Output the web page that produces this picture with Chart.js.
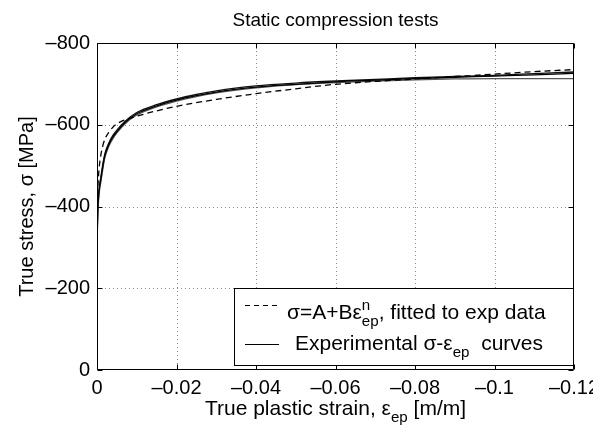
<!DOCTYPE html>
<html><head><meta charset="utf-8">
<script src="https://cdn.jsdelivr.net/npm/chart.js@4/dist/chart.umd.min.js"></script>
<style>html,body{margin:0;padding:0;background:#fff}#wrap{width:593px;height:441px;position:relative}</style>
</head><body><div id="wrap"><canvas id="c"></canvas></div>
<script>
const FONT = '"Liberation Sans", Arial, Helvetica, sans-serif';
const FS_TICK = 20, FS_TITLE = 19, FS_LEG = 21, FS_AX = 21;

const titleText = 'Static compression tests';
const xTickValues = [0, -0.02, -0.04, -0.06, -0.08, -0.1, -0.12];
const yTickValues = [0, -200, -400, -600, -800];

// Experimental curves (strain, stress)
const strainExp = [0, -0.0002, -0.0005, -0.001, -0.0015, -0.002, -0.003, -0.004, -0.005, -0.007, -0.01, -0.015, -0.02, -0.025, -0.03, -0.04, -0.05, -0.06, -0.07, -0.08, -0.09, -0.1, -0.11, -0.12];
const exp1 = [-310, -390, -435, -468, -500, -525, -552, -570, -583, -605, -627, -646, -660, -671, -680, -692, -699, -705, -709, -713, -716, -719, -722, -726];
const exp2 = [-300, -380, -428, -462, -494, -520, -548, -566, -580, -602, -624, -644, -658, -669, -678, -690, -698, -703, -707, -710, -712, -713, -713, -713];
const exp3 = [-320, -398, -442, -474, -506, -530, -556, -574, -587, -608, -630, -649, -663, -674, -683, -695, -702, -707, -711, -715, -718, -721, -725, -729];

// Fitted curve sigma = A + B*eps^n
const strainFit = [0, -0.0002, -0.0005, -0.001, -0.0015, -0.002, -0.003, -0.004, -0.005, -0.0065, -0.008, -0.01, -0.015, -0.02, -0.03, -0.04, -0.05, -0.06, -0.07, -0.08, -0.09, -0.1, -0.11, -0.12];
const stressFit = [-400, -445, -490, -528, -550, -565, -582, -594, -602, -610, -615, -621, -634, -645, -662, -676, -688, -699, -706, -712, -718, -724, -730, -735];

function pts(xs, ys){ return xs.map((x,i)=>({x:x, y:ys[i]})); }
function fmtX(v){ const n = Number(v.toFixed(2)); return n === 0 ? '0' : '\u2013' + String(Math.abs(n)); }
function fmtY(v){ const n = Math.round(v); return n === 0 ? '0' : '\u2013' + String(Math.abs(n)); }

function partFont(p, fs){ return (p.s ? fs*0.72 : fs) + 'px ' + FONT; }
function richLayout(ctx, parts, fs){
  let w = 0; const out = [];
  for (let i=0;i<parts.length;i++){
    const p = parts[i];
    ctx.font = partFont(p, fs);
    const pw = ctx.measureText(p.t).width;
    out.push({p:p, x:w});
    if (p.s === 'sup' && parts[i+1] && parts[i+1].s === 'sub'){
      ctx.font = partFont(parts[i+1], fs);
      const qw = ctx.measureText(parts[i+1].t).width;
      out.push({p:parts[i+1], x:w});
      w += Math.max(pw, qw); i++;
    } else w += pw;
  }
  return {items:out, width:w};
}
function drawRich(ctx, parts, x, y, align, fs){
  const L = richLayout(ctx, parts, fs);
  const x0 = align === 'center' ? x - L.width/2 : x;
  ctx.textAlign = 'left'; ctx.textBaseline = 'alphabetic';
  for (const it of L.items){
    ctx.font = partFont(it.p, fs);
    let dy = 0;
    if (it.p.s === 'sub') dy = fs*0.35;
    if (it.p.s === 'sup') dy = -fs*0.45;
    ctx.fillText(it.p.t, x0 + it.x, y + dy);
  }
}

const decor = {
  id: 'decor',
  beforeDatasetsDraw(chart){
    const {ctx, chartArea:a, scales:{x, y}} = chart;
    ctx.save();
    ctx.strokeStyle = '#8a8a8a'; ctx.lineWidth = 1; ctx.setLineDash([1,3]);
    xTickValues.forEach(v=>{ const px = Math.round(x.getPixelForValue(v))+0.5; if (px>a.left+2 && px<a.right-2){ctx.beginPath(); ctx.moveTo(px,a.top); ctx.lineTo(px,a.bottom); ctx.stroke();}});
    yTickValues.forEach(v=>{ const py = Math.round(y.getPixelForValue(v))+0.5; if (py>a.top+2 && py<a.bottom-2){ctx.beginPath(); ctx.moveTo(a.left,py); ctx.lineTo(a.right,py); ctx.stroke();}});
    ctx.restore();
  },
  afterDraw(chart){
    const {ctx, chartArea:a, scales:{x, y}} = chart;
    ctx.save();
    ctx.strokeStyle = '#000'; ctx.lineWidth = 1; ctx.setLineDash([]);
    const L = Math.round(a.left)+0.5, R = Math.round(a.right)-0.5, T = Math.round(a.top)+0.5, B = Math.round(a.bottom)-0.5;
    ctx.beginPath(); ctx.moveTo(L,T); ctx.lineTo(R,T); ctx.lineTo(R,B); ctx.lineTo(L,B); ctx.closePath(); ctx.stroke();
    const tl = 5;
    ctx.beginPath();
    xTickValues.forEach(v=>{ const px = Math.round(x.getPixelForValue(v))+0.5; ctx.moveTo(px,B); ctx.lineTo(px,B-tl); ctx.moveTo(px,T); ctx.lineTo(px,T+tl); });
    yTickValues.forEach(v=>{ const py = Math.round(y.getPixelForValue(v))+0.5; ctx.moveTo(L,py); ctx.lineTo(L+tl,py); ctx.moveTo(R,py); ctx.lineTo(R-tl,py); });
    ctx.stroke();

    ctx.fillStyle = '#000';
    ctx.font = FS_TITLE + 'px ' + FONT; ctx.textAlign = 'center'; ctx.textBaseline = 'alphabetic';
    ctx.fillText(titleText, (a.left+a.right)/2, 26);
    drawRich(ctx, [{t:'True plastic strain, \u03b5'},{t:'ep', s:'sub'},{t:' [m/m]'}], (a.left+a.right)/2, 415, 'center', FS_AX);
    ctx.save(); ctx.translate(33, (a.top+a.bottom)/2); ctx.rotate(-Math.PI/2);
    drawRich(ctx, [{t:'True stress, \u03c3 [MPa]'}], 0, 0, 'center', FS_AX - 1);
    ctx.restore();

    // legend
    const lx = 234.5, ly = 288.5, lw = R - lx, lh = 365 - 288;
    ctx.fillStyle = '#fff'; ctx.fillRect(lx, ly, lw, lh);
    ctx.strokeStyle = '#000'; ctx.lineWidth = 1; ctx.strokeRect(lx, ly, lw, lh);
    ctx.setLineDash([5,4]); ctx.beginPath(); ctx.moveTo(245, 305.5); ctx.lineTo(279, 305.5); ctx.stroke();
    ctx.setLineDash([]); ctx.beginPath(); ctx.moveTo(245, 344.5); ctx.lineTo(279, 344.5); ctx.stroke();
    ctx.fillStyle = '#000';
    drawRich(ctx, [{t:'\u03c3=A+B\u03b5'},{t:'n', s:'sup'},{t:'ep', s:'sub'},{t:', fitted to exp data'}], 287, 319, 'left', FS_LEG);
    drawRich(ctx, [{t:'Experimental \u03c3-\u03b5'},{t:'ep', s:'sub'},{t:'  curves'}], 295, 350, 'left', FS_LEG);
    ctx.restore();
  }
};

const lineBase = {pointRadius:0, borderWidth:1.3, fill:false, cubicInterpolationMode:'monotone'};
new Chart(document.getElementById('c'), {
  type: 'line',
  data: {
    datasets: [
      Object.assign({label:'fit', data: pts(strainFit, stressFit), borderColor:'#000', borderDash:[6,4]}, lineBase),
      Object.assign({label:'exp1', data: pts(strainExp, exp1), borderColor:'#000'}, lineBase),
      Object.assign({label:'exp2', data: pts(strainExp, exp2), borderColor:'#555'}, lineBase),
      Object.assign({label:'exp3', data: pts(strainExp, exp3), borderColor:'#111'}, lineBase)
    ]
  },
  options: {
    responsive: true, maintainAspectRatio: false, animation: false,
    layout: {padding: {left: 0, right: 19, top: 43, bottom: 0}},
    plugins: {legend: {display:false}, title:{display:false}, tooltip:{enabled:false}},
    scales: {
      x: {
        type: 'linear', min: -0.12, max: 0, reverse: true,
        afterBuildTicks: s => { s.ticks = xTickValues.map(v=>({value:v})); },
        afterFit: s => { s.height = 71; s.paddingLeft = 0; s.paddingRight = 0; },
        grid: {display:false, drawTicks:false},
        border: {display:false},
        ticks: {padding: 6, color:'#000', font:{family:FONT, size:FS_TICK}, maxRotation:0, autoSkip:false, callback: v => fmtX(v)}
      },
      y: {
        type: 'linear', min: -800, max: 0, reverse: true,
        afterBuildTicks: s => { s.ticks = yTickValues.map(v=>({value:v})); },
        afterFit: s => { s.width = 97; s.paddingTop = 0; s.paddingBottom = 0; },
        grid: {display:false, drawTicks:false},
        border: {display:false},
        ticks: {padding: 7, color:'#000', font:{family:FONT, size:FS_TICK}, autoSkip:false, callback: v => fmtY(v)}
      }
    }
  },
  plugins: [decor]
});
</script>
</body></html>
